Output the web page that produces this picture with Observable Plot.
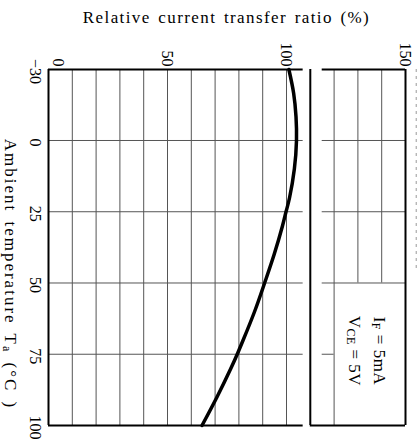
<!DOCTYPE html>
<html><head><meta charset="utf-8">
<script src="https://cdn.jsdelivr.net/npm/d3@7"></script>
<script src="https://cdn.jsdelivr.net/npm/@observablehq/plot@0.6"></script>
<style>
html,body{margin:0;padding:0;background:#fff;}
#chart{width:420px;height:441px;overflow:hidden;}
svg{display:block;}
</style></head>
<body><div id="chart"></div>
<script>
// ---- data ----
const title = "Relative current transfer ratio (%)";
const yTitle = ["Ambient temperature T", "a", " (°C )"];
const temperature = [-30, -20, -10, 0, 10, 20, 25, 30, 40, 50, 60, 70, 75, 80, 90, 100];
const ctrPercent  = [101, 103, 104, 104.2, 103.3, 101.3, 99.8, 98.3, 94.8, 90.8, 86.6, 81.8, 79.3, 76.6, 70.8, 64.5];
const xTicks = [0, 50, 100, 150];
const xTickLabels = ["0", "50", "100", "150"];
const yTicks = [-30, 0, 25, 50, 75, 100];
const yTickLabels = ["−30", "0", "25", "50", "75", "100"];
const gridCtrLeft = [10, 20, 30, 40, 50, 60, 70, 80, 90, 100];
const gridCtrRight = [120, 130, 140];
const gridTemp = [0, 25, 50, 75];
const legendLines = [["I", "F", " = 5mA"], ["V", "CE", " = 5V"]];

// ---- layout ----
const W = 420, H = 441;
const mT = 69, mB = 16, mL = 48, mR = 15;
const serif = "'Liberation Serif','Times New Roman',Times,serif";
const ink = "#000", gridInk = "#555";
// the printed sheet compresses the sub-zero part of the temperature axis
const subZero = 0.8304;
const yTransform = t => (t < 0 ? t * subZero : t);

const chart = Plot.plot({
  width: W, height: H,
  marginTop: mT, marginBottom: mB, marginLeft: mL, marginRight: mR,
  style: {fontFamily: serif, background: "#fff", color: "#000"},
  x: {domain: [0, 150], range: [mL, W - mR], axis: null},
  y: {transform: yTransform, range: [mT, H - mB], axis: null},
  marks: [
    // grid
    Plot.ruleX(gridCtrLeft, {y1: -30, y2: 100, stroke: gridInk, strokeWidth: 1}),
    Plot.ruleX(gridCtrRight.slice(0, 1), {y1: -30, y2: 100, stroke: gridInk, strokeWidth: 1}),
    Plot.ruleX(gridCtrRight.slice(1), {y1: -30, y2: 50, stroke: gridInk, strokeWidth: 1}),
    Plot.ruleY(gridTemp, {x1: 0, x2: 107, stroke: gridInk, strokeWidth: 1}),
    Plot.ruleY(gridTemp.slice(0, 3), {x1: 115, x2: 150, stroke: gridInk, strokeWidth: 1}),
    Plot.ruleY(gridTemp.slice(3), {x1: 115, x2: 120, stroke: gridInk, strokeWidth: 1}),
    // frame pieces
    Plot.ruleX([0], {y1: -30, y2: 100, stroke: ink, strokeWidth: 2}),
    Plot.ruleY([-30, 100], {x1: 0, x2: 107, stroke: ink, strokeWidth: 2}),
    Plot.ruleX([110], {y1: -30, y2: 100, stroke: ink, strokeWidth: 2}),
    Plot.ruleY([-30], {x1: 115, x2: 150, stroke: ink, strokeWidth: 2}),
    Plot.ruleY([100], {x1: 110, x2: 150, stroke: ink, strokeWidth: 2}),
    Plot.ruleX([150], {y1: -30, y2: 100, stroke: ink, strokeWidth: 2}),
    Plot.ruleX([154.5], {y1: -30, y2: 45, stroke: "#999", strokeWidth: 1, strokeDasharray: "3,4"}),
    // curve
    Plot.line(temperature, {x: (d, i) => ctrPercent[i], y: d => d, curve: "natural",
      stroke: ink, strokeWidth: 3.5}),
    // x tick labels (rotated, above the frame)
    Plot.text(xTicks.slice(0, 1), {x: d => d, text: (d, i) => xTickLabels[i], frameAnchor: "top",
      rotate: 90, textAnchor: "end", lineAnchor: "middle", dy: -3, dx: 10, fontSize: 16, fill: ink}),
    Plot.text(xTicks.slice(1), {x: d => d, text: (d, i) => xTickLabels[i + 1], frameAnchor: "top",
      rotate: 90, textAnchor: "end", lineAnchor: "middle", dy: -3, fontSize: 16, fill: ink}),
    // y tick labels (rotated, left of the frame)
    Plot.text(yTicks, {y: d => d, text: (d, i) => yTickLabels[i], frameAnchor: "left",
      rotate: 90, textAnchor: "middle", lineAnchor: "middle", dx: -13, dy: 2, fontSize: 16, fill: ink})
  ]
});

document.getElementById("chart").appendChild(chart);

// ---- rich text (subscripts) positioned via the chart's scales ----
const svg = d3.select(chart);
const sx = chart.scale("x"), sy = chart.scale("y");
const py = t => sy.apply(yTransform(t));

svg.append("text")
  .attr("x", (mL + W - mR) / 2).attr("y", 17)
  .attr("text-anchor", "middle").attr("dominant-baseline", "central")
  .attr("font-family", serif).attr("font-size", 17)
  .attr("letter-spacing", "1.4px").attr("word-spacing", "2px")
  .attr("fill", ink).text(title);

const yt = svg.append("text")
  .attr("transform", `translate(${mL - 37},${py(47)}) rotate(90)`)
  .attr("text-anchor", "middle").attr("dominant-baseline", "central")
  .attr("font-family", serif).attr("font-size", 17)
  .attr("letter-spacing", "2px").attr("word-spacing", "3px").attr("fill", ink);
yt.append("tspan").text(yTitle[0]);
yt.append("tspan").attr("dy", 4).attr("font-size", 12).text(yTitle[1]);
yt.append("tspan").attr("dy", -4).text(yTitle[2]);

// conditions text
const legendCenters = [139.4, 128.9];
legendLines.forEach((parts, i) => {
  const t = svg.append("text")
    .attr("transform", `translate(${sx.apply(legendCenters[i])},${py(74)}) rotate(90)`)
    .attr("text-anchor", "middle").attr("dominant-baseline", "central")
    .attr("font-family", serif).attr("font-size", 17).attr("letter-spacing", "0.5px").attr("fill", ink);
  t.append("tspan").text(parts[0]);
  t.append("tspan").attr("dy", 4).attr("font-size", 12).text(parts[1]);
  t.append("tspan").attr("dy", -4).text(parts[2]);
});
</script>
</body></html>
